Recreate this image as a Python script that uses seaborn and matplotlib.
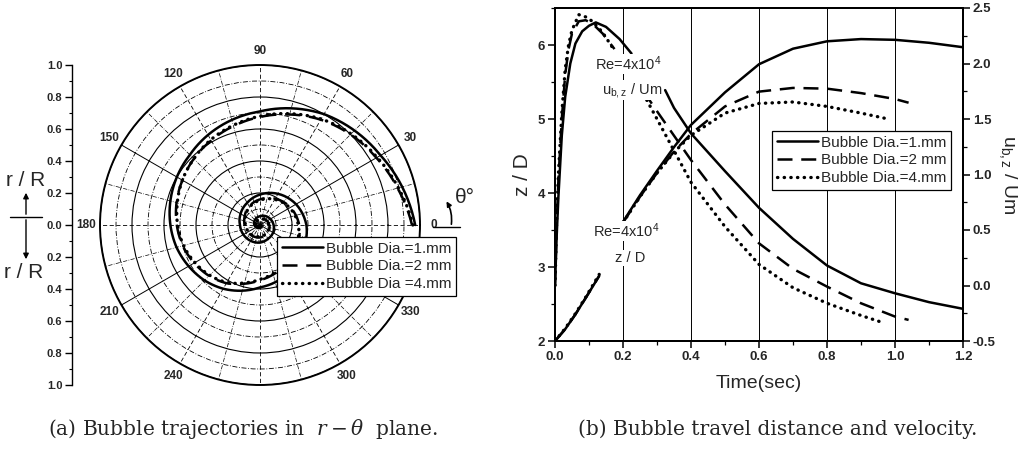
import numpy as np
import matplotlib
matplotlib.use("Agg")
import matplotlib.pyplot as plt
import seaborn as sns
from matplotlib.lines import Line2D
from matplotlib.patches import FancyArrowPatch
from matplotlib.ticker import MultipleLocator

sns.set_theme(style="white")
plt.rcParams["font.family"] = ["Liberation Sans", "DejaVu Sans"]
plt.rcParams["mathtext.fontset"] = "custom"
plt.rcParams["mathtext.default"] = "regular"
plt.rcParams["mathtext.it"] = "DejaVu Serif:italic"
plt.rcParams["mathtext.rm"] = "DejaVu Serif"

nan = np.nan

# ---------------- data: (a) polar trajectories ----------------
polar_labels = ["Bubble Dia.=1.mm", "Bubble Dia.=2 mm", "Bubble Dia =4.mm"]
theta_deg = [0, 15, 30, 45, 60, 75, 90, 105, 120, 135, 150, 165, 180, 195, 210, 225,
             240, 255, 270, 285, 300, 315, 330, 345, 360,
             390, 420, 450, 480, 510, 540, 570, 600, 630, 660, 690, 720,
             765, 810, 855, 900, 945, 990, 1035, 1080]
r_1mm = [0.97, 0.92, 0.87, 0.835, 0.80, 0.755, 0.71, 0.68, 0.65, 0.62, 0.60, 0.58, 0.56, 0.54, 0.515, 0.49,
         0.46, 0.425, 0.39, 0.37, 0.35, 0.33, 0.315, 0.30, 0.29,
         0.26, 0.225, 0.19, 0.16, 0.14, 0.125, 0.12, 0.115, 0.11, 0.10, 0.095, 0.085,
         0.07, 0.055, 0.045, 0.035, 0.025, 0.018, 0.01, 0.005]
r_2mm = [0.95, 0.89, 0.84, 0.80, 0.76, 0.715, 0.675, 0.64, 0.61, 0.585, 0.56, 0.54, 0.52, 0.50, 0.475, 0.45,
         0.42, 0.38, 0.345, 0.32, 0.30, 0.28, 0.265, 0.255, 0.245,
         0.22, 0.19, 0.16, 0.135, 0.11, 0.095, 0.088, 0.082, 0.078, 0.072, 0.065, 0.058,
         0.048, 0.04, 0.032, 0.025, 0.018, 0.012, 0.007, 0.003]
r_4mm = [0.955, 0.895, 0.845, 0.805, 0.765, 0.72, 0.68, 0.645, 0.615, 0.585, 0.56, 0.535, 0.515, 0.495, 0.47, 0.445,
         0.415, 0.375, 0.34, 0.315, 0.295, 0.275, 0.26, 0.25, 0.24,
         0.215, 0.185, 0.155, 0.13, 0.105, 0.09, 0.084, 0.078, 0.073, 0.068, 0.061, 0.054,
         0.045, 0.037, 0.03, 0.023, 0.017, 0.011, 0.006, 0.002]
angle_ticks = list(range(0, 360, 15))
angle_labels = [str(a) if (a % 30 == 0 and a != 270) else "" for a in angle_ticks]
r_grid = [0.1, 0.2, 0.3, 0.4, 0.5, 0.6, 0.7, 0.8, 0.9, 1.0]
rR_ticks = [-1.0, -0.8, -0.6, -0.4, -0.2, 0.0, 0.2, 0.4, 0.6, 0.8, 1.0]
rR_labels = ["1.0", "0.8", "0.6", "0.4", "0.2", "0.0", "0.2", "0.4", "0.6", "0.8", "1.0"]

# ---------------- data: (b) distance and velocity ----------------
line_labels = ["Bubble Dia.=1.mm", "Bubble Dia.=2 mm", "Bubble Dia.=4.mm"]
t_zd_1 = [0.0, 0.03, 0.06, 0.09, 0.13, nan, 0.2, 0.25, 0.3, 0.35, 0.4, 0.5, 0.6, 0.7, 0.8, 0.9, 1.0, 1.1, 1.2]
zd_1 = [2.0, 2.16, 2.36, 2.58, 2.88, nan, 3.61, 3.97, 4.3, 4.62, 4.92, 5.36, 5.74, 5.95, 6.05, 6.08, 6.07, 6.03, 5.97]
t_zd_2 = [0.0, 0.03, 0.06, 0.09, 0.13, nan, 0.2, 0.25, 0.3, 0.35, 0.4, 0.5, 0.6, 0.7, 0.8, 0.9, 1.0, 1.04]
zd_2 = [2.0, 2.16, 2.36, 2.58, 2.88, nan, 3.6, 3.95, 4.27, 4.56, 4.8, 5.17, 5.37, 5.42, 5.41, 5.35, 5.27, 5.22]
t_zd_4 = [0.0, 0.03, 0.06, 0.09, 0.13, nan, 0.2, 0.25, 0.3, 0.35, 0.4, 0.5, 0.6, 0.7, 0.8, 0.9, 0.97]
zd_4 = [2.0, 2.17, 2.37, 2.59, 2.9, nan, 3.6, 3.95, 4.27, 4.55, 4.78, 5.08, 5.21, 5.23, 5.17, 5.08, 5.01]

t_u_1 = [0.0, 0.005, 0.01, 0.02, 0.03, 0.045, 0.06, 0.08, 0.1, 0.12, 0.15, 0.19, 0.225, nan,
         0.324, 0.35, 0.4, 0.5, 0.6, 0.7, 0.8, 0.9, 1.0, 1.1, 1.2]
u_1 = [0.0, 0.45, 0.8, 1.35, 1.7, 2.0, 2.18, 2.29, 2.34, 2.37, 2.33, 2.22, 2.09, nan,
       1.76, 1.6, 1.37, 1.03, 0.7, 0.42, 0.18, 0.02, -0.07, -0.15, -0.21]
t_u_2 = [0.0, 0.005, 0.01, 0.02, 0.03, 0.04, 0.05, 0.07, 0.09, 0.11, 0.14, 0.175, nan,
         0.26, 0.3, 0.4, 0.5, 0.6, 0.7, 0.8, 0.9, 1.0, 1.04]
u_2 = [0.0, 0.55, 0.95, 1.5, 1.9, 2.13, 2.27, 2.38, 2.39, 2.36, 2.27, 2.13, nan,
       1.75, 1.57, 1.13, 0.73, 0.38, 0.15, -0.01, -0.16, -0.28, -0.31]
t_u_4 = [0.0, 0.005, 0.01, 0.02, 0.03, 0.04, 0.05, 0.07, 0.09, 0.11, 0.14, 0.17, nan,
         0.27, 0.3, 0.4, 0.5, 0.6, 0.7, 0.8, 0.9, 0.97]
u_4 = [0.0, 0.6, 1.0, 1.55, 1.95, 2.17, 2.3, 2.44, 2.42, 2.38, 2.28, 2.14, nan,
       1.67, 1.5, 0.93, 0.53, 0.19, -0.02, -0.16, -0.27, -0.34]
x_ticks = [0.0, 0.2, 0.4, 0.6, 0.8, 1.0, 1.2]
x_tick_labels = ["0.0", "0.2", "0.4", "0.6", "0.8", "1.0", "1.2"]
zd_ticks = [2, 3, 4, 5, 6]
u_ticks = [-0.5, 0.0, 0.5, 1.0, 1.5, 2.0, 2.5]
u_tick_labels = ["-0.5", "0.0", "0.5", "1.0", "1.5", "2.0", "2.5"]

# ---------------- figure ----------------
W, H = 1021, 450
fig = plt.figure(figsize=(W / 100, H / 100), dpi=100)
fig.patch.set_facecolor("white")


def fx(x):
    return x / W


def fy(y):
    return 1 - y / H


styles = [
    dict(color="black", lw=1.8, linestyle="-"),
    dict(color="black", lw=1.8, linestyle=(0, (6, 3.5))),
    dict(color="black", lw=2.4, linestyle=(0, (0.1, 1.9)), dash_capstyle="round"),
]


def draw_series(ax, x, y, style):
    x = np.asarray(x, float)
    y = np.asarray(y, float)
    breaks = np.where(np.isnan(x))[0]
    starts = np.concatenate([[0], breaks + 1])
    ends = np.concatenate([breaks, [len(x)]])
    created = []
    for s, e in zip(starts, ends):
        n_before = len(ax.get_lines())
        sns.lineplot(x=x[s:e], y=y[s:e], ax=ax, sort=False, estimator=None, **style)
        created.append(ax.get_lines()[n_before])
    return created


# ---- (a) polar ----
axp = fig.add_axes([fx(100), fy(385), 320 / W, 320 / H], projection="polar")
th = np.deg2rad(theta_deg)
for rr, st in zip([r_1mm, r_2mm, r_4mm], styles):
    for ln in draw_series(axp, th, rr, st):
        ln.get_path()._interpolation_steps = 12
axp.set_ylim(0, 1)
axp.set_yticks(r_grid)
axp.set_yticklabels([])
axp.set_xticks(np.deg2rad(angle_ticks))
axp.set_xticklabels(angle_labels)
axp.set_xlabel("")
axp.set_ylabel("")
axp.grid(True)
axp.tick_params(axis="x", pad=-3, labelsize=8.5)
for lab in axp.get_xticklabels():
    lab.set_fontweight("bold")
for val, tick in zip(r_grid, axp.yaxis.get_major_ticks()):
    gl = tick.gridline
    gl.set_color("black")
    if round(val * 10) % 2 == 0:
        gl.set_linestyle("-")
        gl.set_linewidth(0.8)
    else:
        gl.set_linestyle((0, (6, 2, 1, 2)))
        gl.set_linewidth(0.6)
for ang, tick in zip(angle_ticks, axp.xaxis.get_major_ticks()):
    gl = tick.gridline
    gl.set_color("black")
    if ang in (30, 150, 210, 330):
        gl.set_linestyle("-")
        gl.set_linewidth(0.7)
    elif ang % 30 == 0:
        gl.set_linestyle((0, (5, 3)))
        gl.set_linewidth(0.6)
    else:
        gl.set_linestyle((0, (6, 2, 1, 2)))
        gl.set_linewidth(0.5)
axp.spines["polar"].set_color("black")
axp.spines["polar"].set_linewidth(1.4)

handles_a = [Line2D([0], [0], **st) for st in styles]
leg_a = axp.legend(handles_a, polar_labels, loc="upper left",
                   bbox_to_anchor=(fx(277), fy(237)), bbox_transform=fig.transFigure,
                   fontsize=11, frameon=True, fancybox=False, framealpha=1,
                   edgecolor="black", handlelength=2.7, handletextpad=0.2,
                   borderpad=0.3, labelspacing=0.25, borderaxespad=0)
leg_a.get_frame().set_linewidth(0.9)

# r / R axis on far left
axr = fig.add_axes([fx(72), fy(385), 0.0005, 320 / H])
axr.set_ylim(-1, 1)
for s in ["top", "right", "bottom"]:
    axr.spines[s].set_visible(False)
axr.spines["left"].set_color("black")
axr.spines["left"].set_linewidth(1.0)
axr.set_xticks([])
axr.set_yticks(rR_ticks)
axr.set_yticklabels(rR_labels)
axr.yaxis.set_minor_locator(MultipleLocator(0.1))
axr.tick_params(axis="y", which="major", direction="out", length=5, width=1,
                labelsize=8, color="black", left=True, pad=2)
axr.tick_params(axis="y", which="minor", direction="out", length=2.5, width=0.8,
                color="black", left=True)
for lab in axr.get_yticklabels():
    lab.set_fontweight("bold")
axr.patch.set_visible(False)

fig.text(fx(26), fy(181), "r / R", fontsize=15, ha="center", va="center")
fig.text(fx(24), fy(272), "r / R", fontsize=15, ha="center", va="center")
fig.add_artist(Line2D([fx(10), fx(42)], [fy(217), fy(217)], color="black", lw=1.0,
                      transform=fig.transFigure))
fig.add_artist(FancyArrowPatch((fx(26), fy(217)), (fx(26), fy(190)), transform=fig.transFigure,
                               arrowstyle="-|>", mutation_scale=8, color="black", lw=1.0))
fig.add_artist(FancyArrowPatch((fx(26), fy(217)), (fx(26), fy(262)), transform=fig.transFigure,
                               arrowstyle="-|>", mutation_scale=8, color="black", lw=1.0))

# theta arrow
fig.add_artist(Line2D([fx(433), fx(460)], [fy(227), fy(227)], color="black", lw=1.0,
                      transform=fig.transFigure))
fig.add_artist(FancyArrowPatch((fx(451), fy(227)), (fx(445), fy(199)), transform=fig.transFigure,
                               arrowstyle="-|>", mutation_scale=7, color="black", lw=1.2,
                               connectionstyle="arc3,rad=0.2"))
fig.text(fx(465), fy(197), "θ°", fontsize=15, ha="center", va="center")

# ---- (b) distance and velocity ----
ax2 = fig.add_axes([fx(555), fy(341), 408 / W, 333 / H])
ax3 = ax2.twinx()
hz = []
for t, z, st in zip([t_zd_1, t_zd_2, t_zd_4], [zd_1, zd_2, zd_4], styles):
    hz.append(draw_series(ax2, t, z, st)[0])
for t, u, st in zip([t_u_1, t_u_2, t_u_4], [u_1, u_2, u_4], styles):
    draw_series(ax3, t, u, st)

ax2.set_xlim(0, 1.2)
ax2.set_ylim(2, 6.5)
ax3.set_ylim(-0.5, 2.5)
ax2.set_xticks(x_ticks)
ax2.set_xticklabels(x_tick_labels)
ax2.set_yticks(zd_ticks)
ax3.set_yticks(u_ticks)
ax3.set_yticklabels(u_tick_labels)
ax2.xaxis.set_minor_locator(MultipleLocator(0.1))
ax2.yaxis.set_minor_locator(MultipleLocator(0.5))
ax3.yaxis.set_minor_locator(MultipleLocator(0.25))
ax2.grid(False)
ax3.grid(False)
ax2.xaxis.grid(True, which="major", color="black", lw=0.7)
for a in (ax2, ax3):
    for s in a.spines.values():
        s.set_color("black")
        s.set_linewidth(1.4)
ax2.tick_params(axis="both", which="major", direction="out", length=5, width=1.1,
                color="black", labelsize=9.5, left=True, bottom=True, pad=2)
ax2.tick_params(axis="both", which="minor", direction="out", length=3, width=0.9,
                color="black", left=True, bottom=True)
ax3.tick_params(axis="y", which="major", direction="out", length=5, width=1.1,
                color="black", labelsize=9.5, right=True, pad=2)
ax3.tick_params(axis="y", which="minor", direction="out", length=3, width=0.9,
                color="black", right=True)
for lab in ax2.get_xticklabels() + ax2.get_yticklabels() + ax3.get_yticklabels():
    lab.set_fontweight("bold")

ax2.set_xlabel("Time(sec)", fontsize=14, labelpad=9)
ax2.set_ylabel("z / D", fontsize=15, labelpad=4)
ax3.set_ylabel("$u_{b,z}$ / Um", fontsize=14, rotation=270, va="bottom", labelpad=1)

leg_b = ax3.legend(hz, line_labels, loc="upper left",
                   bbox_to_anchor=(fx(772), fy(131)), bbox_transform=fig.transFigure,
                   fontsize=11, frameon=True, fancybox=False, framealpha=1,
                   edgecolor="black", handlelength=2.7, handletextpad=0.2,
                   borderpad=0.3, labelspacing=0.25, borderaxespad=0)
leg_b.get_frame().set_linewidth(0.9)

box = dict(facecolor="white", edgecolor="none", pad=0.5)
fig.text(fx(628), fy(64), "Re=4x10$^4$", fontsize=10.5, ha="center", va="center", bbox=box)
fig.text(fx(632), fy(90), "$u_{b,z}$ / Um", fontsize=10.5, ha="center", va="center", bbox=box)
fig.text(fx(626), fy(231), "Re=4x10$^4$", fontsize=10.5, ha="center", va="center", bbox=box)
fig.text(fx(630), fy(258), "z / D", fontsize=10.5, ha="center", va="center", bbox=box)

# captions
fig.text(fx(243), fy(429), r"(a) Bubble trajectories in  $\mathit{r} - \mathit{\theta}$  plane.",
         fontsize=14.5, family="DejaVu Serif", ha="center", va="center")
fig.text(fx(778), fy(429), "(b) Bubble travel distance and velocity.",
         fontsize=14.5, family="DejaVu Serif", ha="center", va="center")

fig.savefig("out.png", dpi=100, facecolor="white")
